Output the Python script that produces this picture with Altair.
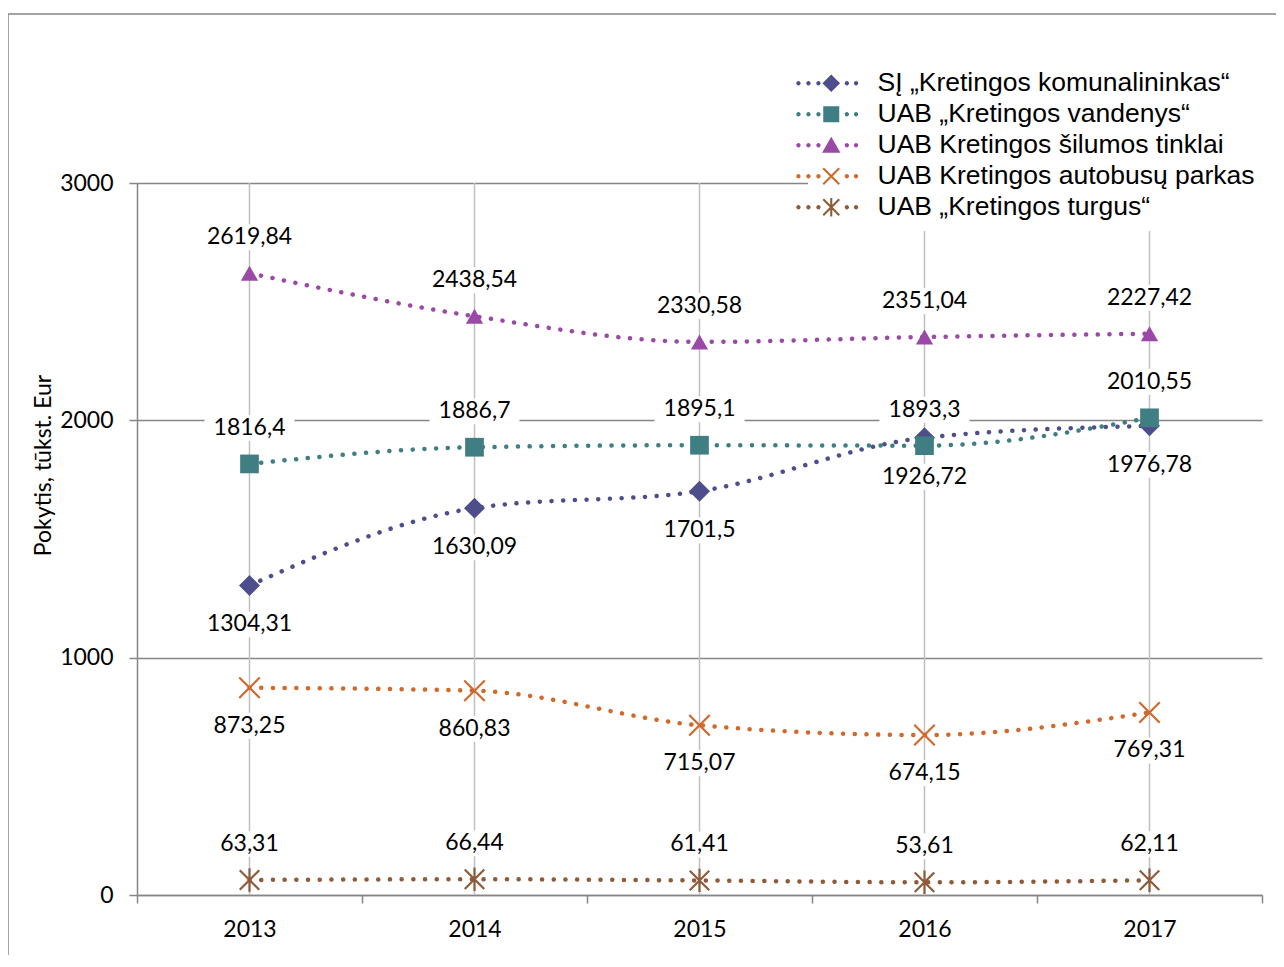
import altair as alt
import pandas as pd

# ---------------- data ----------------
years = [2013, 2014, 2015, 2016, 2017]
series = [
    "SĮ „Kretingos komunalininkas“",
    "UAB „Kretingos vandenys“",
    "UAB Kretingos šilumos tinklai",
    "UAB Kretingos autobusų parkas",
    "UAB „Kretingos turgus“",
]
komunalininkas = [1304.31, 1630.09, 1701.5, 1926.72, 1976.78]
vandenys = [1816.4, 1886.7, 1895.1, 1893.3, 2010.55]
silumos = [2619.84, 2438.54, 2330.58, 2351.04, 2365.0]
autobusai = [873.25, 860.83, 715.07, 674.15, 769.31]
turgus = [63.31, 66.44, 61.41, 53.61, 62.11]

# data labels exactly as printed on the chart
komunalininkas_lbl = ["1304,31", "1630,09", "1701,5", "1926,72", "1976,78"]
vandenys_lbl = ["1816,4", "1886,7", "1895,1", "1893,3", "2010,55"]
silumos_lbl = ["2619,84", "2438,54", "2330,58", "2351,04", "2227,42"]
autobusai_lbl = ["873,25", "860,83", "715,07", "674,15", "769,31"]
turgus_lbl = ["63,31", "66,44", "61,41", "53,61", "62,11"]

values = [komunalininkas, vandenys, silumos, autobusai, turgus]
labels = [komunalininkas_lbl, vandenys_lbl, silumos_lbl, autobusai_lbl, turgus_lbl]

rows = []
for s, vals, lbls in zip(series, values, labels):
    for y, v, l in zip(years, vals, lbls):
        rows.append({"series": s, "year": y, "value": v, "label": l})
df = pd.DataFrame(rows)
years_df = pd.DataFrame({"year": years})
legend_df = pd.DataFrame({"series": series})

# ---------------- styles ----------------
colors = ["#4F4E8C", "#3F7E83", "#9A4AA6", "#D0692B", "#8D5B3A"]
X_PATH = "M-1,-1L1,1M-1,1L1,-1"
AST_PATH = "M-1,-1L1,1M-1,1L1,-1M0,-1.2L0,1.2"
marker_shapes = ["diamond", "square", "triangle-up", X_PATH, AST_PATH]
marker_sizes = [440, 350, 300, 420, 380]
marker_filled = [True, True, True, False, False]
label_dy = [39, -36, -36, 38, -36]

def dots(xs, r=0.27):
    out = ""
    for x in xs:
        out += f"M{x - r},0a{r},{r} 0 1,0 {2 * r},0a{r},{r} 0 1,0 {-2 * r},0Z"
    return out

DOTS = dots([-4.1, -2.85, -1.6, 1.95, 3.1])
LEG_MARK = [
    "M0,-1.1L1.1,0L0,1.1L-1.1,0Z",
    "M-1,-1H1V1H-1Z",
    "M0,-1.05L1.15,0.95L-1.15,0.95Z",
    "M-1.092,-0.908L0.908,1.092L1.092,0.908L-0.908,-1.092Z"
    "M-0.908,1.092L1.092,-0.908L0.908,-1.092L-1.092,0.908Z",
    "M-1.092,-0.908L0.908,1.092L1.092,0.908L-0.908,-1.092Z"
    "M-0.908,1.092L1.092,-0.908L0.908,-1.092L-1.092,0.908Z"
    "M-0.13,-1.15V1.15H0.13V-1.15Z",
]
legend_paths = [DOTS + m for m in LEG_MARK]

NUM_FONT = "Lato"
LEG_FONT = "Liberation Sans"
AX = "#868686"

x_axis = alt.Axis(
    values=[2012.5, 2013.5, 2014.5, 2015.5, 2016.5, 2017.5],
    labelExpr="datum.value < 2017 ? toString(datum.value + 0.5) : ''",
    labelOffset=112.5,
    grid=False, title=None,
    domainColor=AX, domainWidth=1.5,
    tickColor=AX, tickWidth=1.5, tickSize=8,
    labelFont=NUM_FONT, labelFontSize=23, labelColor="black",
    labelPadding=15, labelFlush=False, labelOverlap=False,
)
y_axis = alt.Axis(
    values=[0, 1000, 2000, 3000], format="d",
    grid=True, gridColor=AX, gridWidth=1.5,
    domainColor=AX, domainWidth=1.5,
    tickColor=AX, tickWidth=1.5, tickSize=8,
    labelFont=NUM_FONT, labelFontSize=23, labelColor="black", labelPadding=16,
    title="Pokytis, tūkst. Eur", titleFont=NUM_FONT, titleFontSize=23,
    titleFontWeight="normal", titleColor="black",
    titleX=-94, titleY=282, titleBaseline="middle", titleAnchor="middle",
)

X = alt.X("year:Q", scale=alt.Scale(domain=[2012.5, 2017.5], nice=False, zero=False), axis=x_axis)
Y = alt.Y("value:Q", scale=alt.Scale(domain=[0, 3000], nice=False), axis=y_axis)

layers = []

# vertical gridlines through category centres
layers.append(
    alt.Chart(years_df).mark_rule(color="#C0C0C0", strokeWidth=1.5).encode(
        x=X, y=alt.datum(0), y2=alt.datum(3000)
    )
)

# outer chart frame (left and top edges)
frame_df = pd.DataFrame({"k": [0]})
layers.append(
    alt.Chart(frame_df).mark_rule(color=AX, strokeWidth=1.5).encode(
        x=alt.value(-129), x2=alt.value(1145), y=alt.value(-169)
    )
)
layers.append(
    alt.Chart(frame_df).mark_rule(color=AX, strokeWidth=1.5).encode(
        x=alt.value(-129), y=alt.value(-169), y2=alt.value(780)
    )
)

# white boxes behind the data labels
for i, s in enumerate(series):
    layers.append(
        alt.Chart(df).transform_filter(alt.datum.series == s).mark_point(
            shape="M-45,-13H45V13H-45Z", size=4, filled=True, fill="white",
            opacity=1, strokeWidth=0, yOffset=label_dy[i],
        ).encode(x=X, y=Y)
    )

# dotted smooth lines
for i, s in enumerate(series):
    layers.append(
        alt.Chart(df).transform_filter(alt.datum.series == s).mark_line(
            color=colors[i], strokeWidth=4.5, strokeDash=[0.1, 11.6],
            strokeCap="round", interpolate="monotone",
        ).encode(x=X, y=Y)
    )

# markers
for i, s in enumerate(series):
    props = dict(shape=marker_shapes[i], size=marker_sizes[i], opacity=1)
    if marker_filled[i]:
        props.update(filled=True, fill=colors[i], strokeWidth=0)
    else:
        props.update(filled=False, stroke=colors[i], strokeWidth=2.2)
    layers.append(
        alt.Chart(df).transform_filter(alt.datum.series == s).mark_point(**props).encode(x=X, y=Y)
    )

# data labels
for i, s in enumerate(series):
    layers.append(
        alt.Chart(df).transform_filter(alt.datum.series == s).mark_text(
            font=NUM_FONT, fontSize=23, color="black", baseline="middle",
            align="center", dy=label_dy[i],
        ).encode(x=X, y=Y, text="label:N")
    )

# legend (drawn from the colour / shape scales only)
leg = alt.Legend(
    title=None, orient="none", legendX=671, legendY=-123,
    symbolSize=256, symbolStrokeWidth=0, symbolOpacity=1,
    labelFont=LEG_FONT, labelFontSize=26.5, labelColor="black",
    labelOffset=33, labelLimit=0, rowPadding=4,
    fillColor="white", padding=10,
)
layers.append(
    alt.Chart(legend_df).transform_filter("false").mark_point(filled=True).encode(
        color=alt.Color("series:N", scale=alt.Scale(domain=series, range=colors), legend=leg),
        shape=alt.Shape("series:N", scale=alt.Scale(domain=series, range=legend_paths), legend=leg),
    )
)

chart = alt.layer(*layers).properties(
    width=1125, height=712,
    autosize=alt.AutoSizeParams(type="none"),
    padding={"left": 129, "top": 175, "right": 14, "bottom": 60},
).configure_view(stroke=None)

chart.save("out.html", embed_options={"renderer": "svg", "actions": False})
